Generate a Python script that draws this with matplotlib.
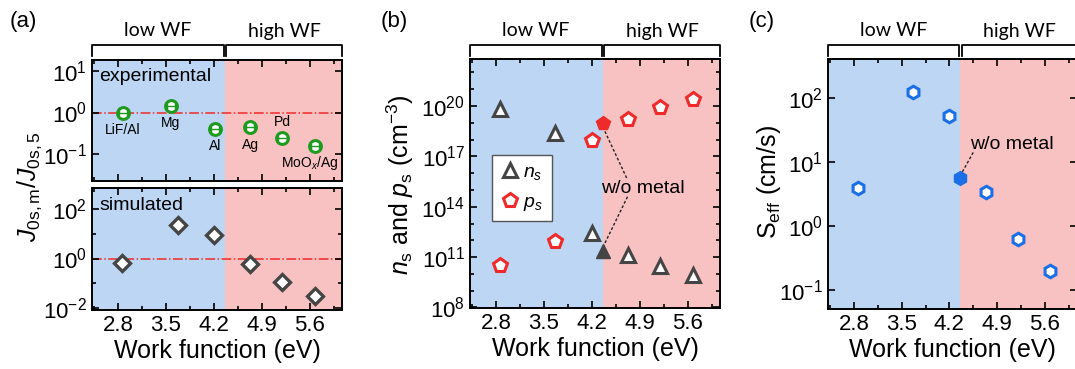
import math
import matplotlib
matplotlib.use("Agg")
import matplotlib.pyplot as plt
from matplotlib.lines import Line2D
from matplotlib.ticker import FixedLocator, FuncFormatter, NullLocator, NullFormatter, MultipleLocator
from matplotlib.transforms import blended_transform_factory

# ---------------- data ----------------
wf_ticks = [2.8, 3.5, 4.2, 4.9, 5.6]
wf_boundary = 4.36
wf_wom = 4.36

metals = ['LiF/Al', 'Mg', 'Al', 'Ag', 'Pd', 'MoO$_x$/Ag']
wf_exp = [2.87, 3.57, 4.22, 4.73, 5.2, 5.68]
j_exp = [0.95, 1.4, 0.41, 0.44, 0.25, 0.16]
j_exp_xerr = [0.06, 0.06, 0.06, 0.06, 0.06, 0.06]

wf_sim = [2.86, 3.67, 4.2, 4.73, 5.2, 5.68]
j_sim = [0.69, 23, 9, 0.58, 0.11, 0.03]

wf = [2.86, 3.66, 4.2, 4.73, 5.2, 5.68]
ns = [6.6e19, 2.4e18, 2.8e12, 1.4e11, 2.8e10, 8.3e9]
ps = [3.2e10, 9.5e11, 9.6e17, 1.6e19, 8.3e19, 2.6e20]
ns_wom = 2.4e11
ps_wom = 9.4e18

seff = [3.9, 126, 53, 3.4, 0.63, 0.2]
seff_wom = 5.6

# ---------------- style ----------------
W, H = 1075, 369
plt.rcParams['font.family'] = ['Liberation Sans', 'DejaVu Sans']
plt.rcParams['mathtext.fontset'] = 'custom'
plt.rcParams['mathtext.rm'] = 'Liberation Sans'
plt.rcParams['mathtext.it'] = 'Liberation Sans:italic'
plt.rcParams['mathtext.bf'] = 'Liberation Sans:bold'
plt.rcParams['axes.linewidth'] = 1.4

BLUE_BG = '#BCD6F4'
RED_BG = '#F8C1C2'
GREEN = '#1E9A1E'
GRAY = '#454545'
RED = '#EE2A2A'
BLUE = '#1A6FE6'
XLIM = (2.42, 6.07)

fig = plt.figure(figsize=(W / 100, H / 100), dpi=100)


def ax_at(l, t, r, b):
    return fig.add_axes([l / W, 1 - b / H, (r - l) / W, (b - t) / H])


def style(ax, show_xlabels=True):
    ax.set_xlim(*XLIM)
    ax.axvspan(XLIM[0], wf_boundary, color=BLUE_BG, lw=0, zorder=0)
    ax.axvspan(wf_boundary, XLIM[1], color=RED_BG, lw=0, zorder=0)
    ax.set_xticks(wf_ticks)
    ax.xaxis.set_minor_locator(MultipleLocator(0.35))
    ax.tick_params(which='both', direction='in', top=True, right=True,
                   labelsize=16, width=1.2)
    ax.tick_params(which='major', length=5)
    ax.tick_params(which='minor', length=3)
    if show_xlabels:
        ax.set_xticklabels([f'{v:.1f}' for v in wf_ticks])
        ax.set_xlabel('Work function (eV)', fontsize=18, labelpad=2)
    else:
        ax.set_xticklabels([])


def fmt_log(ax):
    ax.yaxis.set_major_formatter(FuncFormatter(lambda v, p: r'$\mathregular{10^{%d}}$' % round(math.log10(v))))
    ax.yaxis.set_minor_formatter(NullFormatter())


def bracket(ax, y_low_px=56, y_high_px=45):
    tr = blended_transform_factory(ax.transData, fig.transFigure)
    yl = 1 - y_low_px / H
    yh = 1 - y_high_px / H
    d = 0.02
    for x0, x1, lab in [(XLIM[0], wf_boundary - d, 'low WF'), (wf_boundary + d, XLIM[1], 'high WF')]:
        fig.add_artist(Line2D([x0, x0, x1, x1], [yl, yh, yh, yl], transform=tr,
                              color='black', lw=1.3, solid_joinstyle='round'))
        fig.text((x0 + x1) / 2, 1 - 31 / H, lab, transform=tr, ha='center', va='center',
                 fontsize=14, family=['Lato', 'DejaVu Sans'])


# ---------------- panel (a) ----------------
axa1 = ax_at(92, 60, 342, 181)
axa2 = ax_at(92, 188, 342, 310)
for ax in (axa1, axa2):
    ax.set_yscale('log')
style(axa1, show_xlabels=False)
style(axa2, show_xlabels=True)

axa1.set_ylim(10 ** -1.65, 10 ** 1.265)
axa1.yaxis.set_major_locator(FixedLocator([1e-1, 1e0, 1e1]))
axa1.yaxis.set_minor_locator(NullLocator())
fmt_log(axa1)
axa1.axhline(1, color=RED, lw=1.1, ls='-.', zorder=1)
axa1.plot(wf_exp, j_exp, 'o', ms=8.5, mfc='white', mec=GREEN, mew=2.2, zorder=3)
axa1.errorbar(wf_exp, j_exp, xerr=j_exp_xerr, fmt='none', ecolor=GREEN, elinewidth=1.0,
              capsize=2.5, capthick=1.0, zorder=4)
label_offsets = [(0, -17), (0, -17), (0, -17), (0, -18), (0, 16), (-6, -17)]
for x, y, name, (dx, dy) in zip(wf_exp, j_exp, metals, label_offsets):
    axa1.annotate(name, (x, y), xytext=(dx, dy), textcoords='offset pixels',
                  ha='center', va='center', fontsize=10)
axa1.text(0.03, 0.86, 'experimental', transform=axa1.transAxes, fontsize=14, va='center')

axa2.set_ylim(10 ** -2.08, 10 ** 2.85)
axa2.yaxis.set_major_locator(FixedLocator([1e-2, 1e0, 1e2]))
axa2.yaxis.set_minor_locator(FixedLocator([1e-1, 1e1]))
fmt_log(axa2)
axa2.axhline(1, color=RED, lw=1.1, ls='-.', zorder=1)
axa2.plot(wf_sim, j_sim, 'D', ms=8.5, mfc='white', mec=GRAY, mew=2.4, zorder=3)
axa2.text(0.03, 0.86, 'simulated', transform=axa2.transAxes, fontsize=14, va='center')
bracket(axa1)
fig.text(30 / W, 1 - 187 / H, r'$J_{\mathrm{0s,m}}/J_{\mathrm{0s,5}}$', rotation=90,
         ha='center', va='center', fontsize=18)

# ---------------- panel (b) ----------------
axb = ax_at(470, 59, 720, 308)
axb.set_yscale('log')
style(axb)
axb.set_ylim(10 ** 7.97, 10 ** 22.8)
axb.yaxis.set_major_locator(FixedLocator([1e8, 1e11, 1e14, 1e17, 1e20]))
axb.yaxis.set_minor_locator(FixedLocator([10.0 ** k for k in range(8, 23)]))
fmt_log(axb)
axb.plot(wf, ns, '^', ms=10, mfc='white', mec=GRAY, mew=2.2, zorder=3, label=r'$n_s$')
axb.plot(wf, ps, 'p', ms=10.5, mfc='white', mec=RED, mew=2.2, zorder=3, label=r'$p_s$')
axb.plot([wf_wom], [ns_wom], '^', ms=10, color=GRAY, mec=GRAY, zorder=4)
axb.plot([wf_wom], [ps_wom], 'p', ms=10.5, color=RED, mec=RED, zorder=4)
axb.text(4.95, 10 ** 15.1, 'w/o metal', ha='center', va='center', fontsize=14)
axb.plot([wf_wom, 4.72], [ps_wom * 0.6, 10 ** 15.6], ls=(0, (2, 1.5)), color='#222222', lw=1.0, zorder=2)
axb.plot([wf_wom, 4.72], [ns_wom * 1.6, 10 ** 14.6], ls=(0, (2, 1.5)), color='#222222', lw=1.0, zorder=2)
leg = axb.legend(loc='upper left', bbox_to_anchor=(0.088, 0.615), fontsize=14, frameon=True,
                 fancybox=False, edgecolor='#555555', framealpha=1, borderpad=0.45,
                 handletextpad=0.15, handlelength=1.0, labelspacing=0.55, borderaxespad=0)
leg.get_frame().set_linewidth(1.0)
bracket(axb)
fig.text(400 / W, 1 - 185 / H, r'$n_\mathrm{s}$ and $p_\mathrm{s}$ (cm$^{-3}$)', rotation=90,
         ha='center', va='center', fontsize=18)

# ---------------- panel (c) ----------------
axc = ax_at(828, 59, 1077, 309)
axc.set_yscale('log')
style(axc)
axc.set_ylim(10 ** -1.3, 10 ** 2.61)
axc.yaxis.set_major_locator(FixedLocator([1e-1, 1e0, 1e1, 1e2]))
axc.yaxis.set_minor_locator(NullLocator())
fmt_log(axc)
axc.plot(wf, seff, 'h', ms=9, mfc='white', mec=BLUE, mew=2.2, zorder=3)
axc.plot([wf_wom], [seff_wom], 'h', ms=10, color=BLUE, mec=BLUE, zorder=4)
axc.text(5.12, 10 ** 1.28, 'w/o metal', ha='center', va='center', fontsize=14)
axc.plot([wf_wom + 0.03, 4.56], [seff_wom * 1.25, 10 ** 1.17], ls=(0, (2, 1.5)), color='#222222', lw=1.0, zorder=2)
bracket(axc)
fig.text(769 / W, 1 - 182 / H, r'S$_\mathrm{eff}$ (cm/s)', rotation=90,
         ha='center', va='center', fontsize=18)

# panel letters
for x, lab in [(23, '(a)'), (394, '(b)'), (762, '(c)')]:
    fig.text(x / W, 1 - 22 / H, lab, ha='center', va='center', fontsize=16)

fig.savefig('out.png', dpi=100)
